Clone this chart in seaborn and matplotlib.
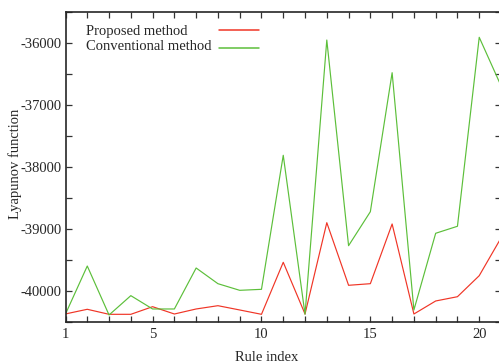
import matplotlib
matplotlib.use("Agg")
import matplotlib.pyplot as plt
from matplotlib.ticker import MultipleLocator, FixedLocator
import pandas as pd
import seaborn as sns

# Данные
rule_index = list(range(1, 22))
proposed = [-40370, -40295, -40376, -40376, -40253, -40371, -40290, -40237, -40306, -40376,
            -39537, -40371, -38898, -39908, -39882, -38919, -40371, -40161, -40092, -39753, -39145]
conventional = [-40371, -39597, -40387, -40075, -40290, -40290, -39629, -39882, -39989, -39973,
                -37811, -40376, -35952, -39269, -38721, -36479, -40306, -39069, -38956, -35908, -36689]
series_names = ["Proposed method", "Conventional method"]
colors = ["#f03526", "#5cbf3a"]
x_ticklabels = [1, 5, 10, 15, 20]
y_ticklabels = [-40000, -39000, -38000, -37000, -36000]

df = pd.DataFrame({
    "Rule index": rule_index * 2,
    "Lyapunov function": proposed + conventional,
    "method": [series_names[0]] * len(proposed) + [series_names[1]] * len(conventional),
})

sns.set_style("ticks")
plt.rcParams["font.family"] = ["Liberation Serif", "DejaVu Serif"]
plt.rcParams["font.size"] = 10.5
plt.rcParams["axes.unicode_minus"] = False

W, H = 499, 363
fig = plt.figure(figsize=(W / 100, H / 100), dpi=100)
ax = fig.add_axes([65.5 / W, 41 / H, 435.5 / W, 310 / H])

sns.lineplot(data=df, x="Rule index", y="Lyapunov function", hue="method",
             palette=colors, linewidth=0.85, ax=ax, legend=False)

ax.set_xlim(1, 21)
ax.set_ylim(-40500, -35500)

ax.xaxis.set_major_locator(FixedLocator(x_ticklabels))
ax.xaxis.set_minor_locator(MultipleLocator(1))
ax.yaxis.set_major_locator(FixedLocator(y_ticklabels))
ax.yaxis.set_minor_locator(MultipleLocator(500))
ax.tick_params(which="both", direction="in", length=4, width=0.9,
               top=True, right=True, labelsize=10.5, color="#333333")
ax.tick_params(axis="y", pad=2.8)
ax.tick_params(axis="x", pad=4)
for s in ax.spines.values():
    s.set_linewidth(1.2)

ax.set_xlabel("Rule index", fontsize=10.5)
ax.set_ylabel("Lyapunov function", fontsize=10.5)
ax.xaxis.set_label_coords(0.461, -0.095)
ax.yaxis.set_label_coords(-0.099, 0.51)

# Легенда как в gnuplot: текст слева, образец линии справа
for i, (name, col) in enumerate(zip(series_names, colors)):
    ty = 1 - (31 + 16 * i) / H
    ly = 1 - (30 + 18.3 * i) / H
    fig.text(86 / W, ty, name, ha="left", va="center", fontsize=10.5)
    fig.add_artist(plt.Line2D([219 / W, 259 / W], [ly, ly], color=col,
                              linewidth=1.1, transform=fig.transFigure))

fig.savefig("out.png", dpi=100)
